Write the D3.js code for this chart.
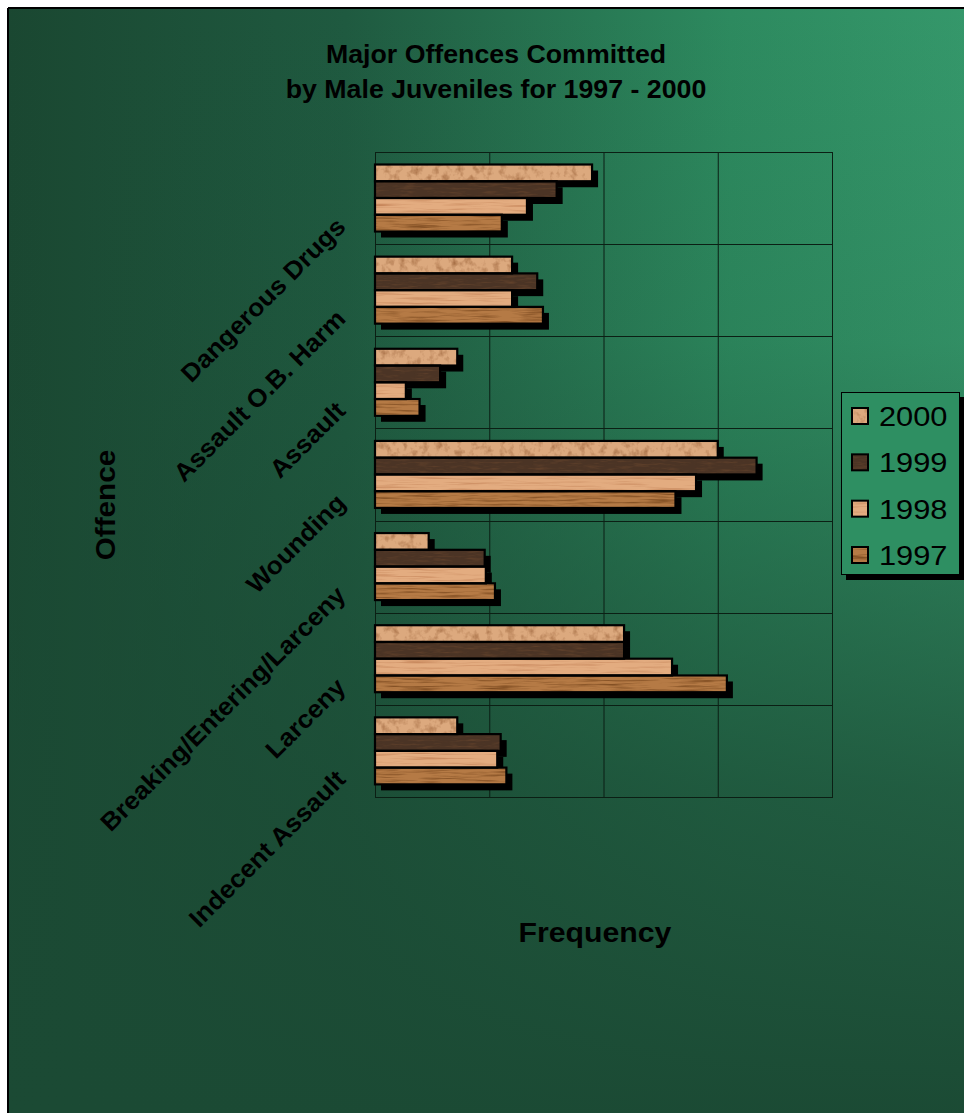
<!DOCTYPE html>
<html><head><meta charset="utf-8">
<script src="https://cdn.jsdelivr.net/npm/d3@7"></script>
<style>html,body{margin:0;padding:0;background:#fff;} svg{display:block;} text{font-family:"Liberation Sans",Arial,Helvetica,sans-serif;}</style>
</head><body><svg id="c" width="964" height="1113"></svg>
<script>
// ---- data ----
const categories = ["Dangerous Drugs","Assault O.B. Harm","Assault","Wounding","Breaking/Entering/Larceny","Larceny","Indecent Assault"];
const years = ["2000","1999","1998","1997"];
const values2000 = [190,120,72,300,47,218,72];
const values1999 = [159,142,57,334,96,218,110];
const values1998 = [133,120,27,281,97,260,107];
const values1997 = [111,147,39,263,105,308,115];
const xTicks = [0,100,200,300,400];
const titleLines = ["Major Offences Committed","by Male Juveniles for 1997 - 2000"];
const xTitle = "Frequency";
const yTitle = "Offence";

const seriesValues = {"2000":values2000,"1999":values1999,"1998":values1998,"1997":values1997};
const seriesStyle = {
  "2000":{fill:"#dca97e", tex:"mottle"},
  "1999":{fill:"#4b3425", tex:"darkgrain"},
  "1998":{fill:"#e3ac80", tex:"grainLight"},
  "1997":{fill:"#b57a45", tex:"grain"}
};

const svg = d3.select("#c");
const W = 964, H = 1113;
const defs = svg.append("defs");

// background gradients
const gH = defs.append("linearGradient").attr("id","bgH").attr("x1",0).attr("x2",1).attr("y1",0).attr("y2",0);
gH.append("stop").attr("offset",0).attr("stop-color","#1a4731");
gH.append("stop").attr("offset",0.35).attr("stop-color","#1f5a40");
gH.append("stop").attr("offset",0.75).attr("stop-color","#2d8a5f");
gH.append("stop").attr("offset",1).attr("stop-color","#35986b");
const gV = defs.append("linearGradient").attr("id","bgV").attr("x1",0).attr("x2",0).attr("y1",0).attr("y2",1);
gV.append("stop").attr("offset",0).attr("stop-color","#1b4a34").attr("stop-opacity",0);
gV.append("stop").attr("offset",0.3).attr("stop-color","#1b4a34").attr("stop-opacity",0.12);
gV.append("stop").attr("offset",0.7).attr("stop-color","#1b4a34").attr("stop-opacity",0.75);
gV.append("stop").attr("offset",1).attr("stop-color","#1b4a34").attr("stop-opacity",1);

// texture filters
function texFilter(id, freq, seed, matrix){
  const f = defs.append("filter").attr("id",id).attr("x",0).attr("y",0).attr("width",1).attr("height",1)
    .attr("color-interpolation-filters","sRGB");
  f.append("feTurbulence").attr("type","fractalNoise").attr("baseFrequency",freq).attr("numOctaves",3).attr("seed",seed).attr("result","n");
  f.append("feColorMatrix").attr("in","n").attr("type","matrix").attr("values",matrix).attr("result","d");
  f.append("feComposite").attr("in","d").attr("in2","SourceGraphic").attr("operator","in");
}
texFilter("mottle","0.14 0.12",3,"0 0 0 0 0.62  0 0 0 0 0.4  0 0 0 0 0.24  1.8 0 0 0 -0.85");
texFilter("darkgrain","0.06 0.5",5,"0 0 0 0 0.42  0 0 0 0 0.28  0 0 0 0 0.18  1.6 0 0 0 -0.75");
texFilter("grainLight","0.02 0.45",7,"0 0 0 0 0.72  0 0 0 0 0.45  0 0 0 0 0.28  1.6 0 0 0 -0.8");
texFilter("grain","0.025 0.5",11,"0 0 0 0 0.45  0 0 0 0 0.26  0 0 0 0 0.1  2.0 0 0 0 -0.9");

// background
svg.append("rect").attr("x",8).attr("y",8).attr("width",W).attr("height",H).attr("fill","url(#bgH)");
svg.append("rect").attr("x",8).attr("y",8).attr("width",W).attr("height",H).attr("fill","url(#bgV)");
svg.append("line").attr("x1",8).attr("x2",W).attr("y1",8).attr("y2",8).attr("stroke","#000").attr("stroke-width",2);
svg.append("line").attr("x1",8).attr("x2",8).attr("y1",8).attr("y2",H).attr("stroke","#000").attr("stroke-width",2);

// scales
const plot = {left:375, right:832, top:152, bottom:797};
const x = d3.scaleLinear().domain([0,400]).range([plot.left, plot.right]);
const y = d3.scaleBand().domain(categories).range([plot.top, plot.bottom]);
const yi = d3.scaleBand().domain(years).range([12.5, 79.5]);

// gridlines
const gx = svg.append("g").attr("transform",`translate(0,${plot.bottom})`)
  .call(d3.axisBottom(x).tickValues(xTicks).tickSize(-(plot.bottom-plot.top)).tickFormat(""));
gx.select(".domain").remove();
gx.selectAll(".tick line").attr("stroke","#0b1f14").attr("stroke-width",1);
svg.append("g").selectAll("line").data(categories).join("line")
  .attr("x1",plot.left).attr("x2",plot.right)
  .attr("y1",d=>Math.round(y(d))+0.5).attr("y2",d=>Math.round(y(d))+0.5)
  .attr("stroke","#0b1f14").attr("stroke-width",1);
svg.append("rect").attr("x",plot.left+0.5).attr("y",plot.top+0.5)
  .attr("width",plot.right-plot.left).attr("height",plot.bottom-plot.top)
  .attr("fill","none").attr("stroke","#0b1f14").attr("stroke-width",1);

// bar data
const bars = [];
categories.forEach((c,i)=>years.forEach(yr=>bars.push({c, yr, v:seriesValues[yr][i]})));

// shadows
svg.append("g").selectAll("rect").data(bars).join("rect")
  .attr("x",d=>x(0)+6).attr("y",d=>y(d.c)+yi(d.yr)+6)
  .attr("width",d=>x(d.v)-x(0)).attr("height",yi.bandwidth())
  .attr("fill","#000");
// bars
const bg = svg.append("g");
bg.selectAll("rect.bar").data(bars).join("rect").attr("class","bar")
  .attr("x",d=>x(0)).attr("y",d=>y(d.c)+yi(d.yr))
  .attr("width",d=>x(d.v)-x(0)).attr("height",yi.bandwidth())
  .attr("fill",d=>seriesStyle[d.yr].fill);
bg.selectAll("rect.tex").data(bars).join("rect").attr("class","tex")
  .attr("x",d=>x(0)).attr("y",d=>y(d.c)+yi(d.yr))
  .attr("width",d=>x(d.v)-x(0)).attr("height",yi.bandwidth())
  .attr("fill","#000").attr("filter",d=>`url(#${seriesStyle[d.yr].tex})`);
bg.selectAll("rect.out").data(bars).join("rect").attr("class","out")
  .attr("x",d=>x(0)).attr("y",d=>y(d.c)+yi(d.yr))
  .attr("width",d=>x(d.v)-x(0)).attr("height",yi.bandwidth())
  .attr("fill","none").attr("stroke","#000").attr("stroke-width",2.2);

// category labels
svg.append("g").selectAll("text").data(categories).join("text")
  .attr("transform",d=>`translate(347,${y(d)+y.bandwidth()/2+30}) rotate(-45) scale(1.05,1)`)
  .attr("text-anchor","end").attr("font-size",25).attr("font-weight","bold").attr("fill","#000")
  .text(d=>d);

// titles
svg.append("g").selectAll("text").data(titleLines).join("text")
  .attr("transform",(d,i)=>`translate(496,${63+i*35}) scale(1.07,1)`)
  .attr("text-anchor","middle").attr("font-size",25).attr("font-weight","bold").attr("fill","#000")
  .text(d=>d);
svg.append("text").attr("transform","translate(595,942) scale(1.08,1)")
  .attr("text-anchor","middle").attr("font-size",28).attr("font-weight","bold").text(xTitle);
svg.append("text").attr("transform","translate(115,505) rotate(-90) scale(1.06,1)")
  .attr("text-anchor","middle").attr("font-size",28).attr("font-weight","bold").text(yTitle);

// legend
const lg = svg.append("g");
lg.append("rect").attr("x",846).attr("y",397).attr("width",119).attr("height",183).attr("fill","#000");
lg.append("rect").attr("x",841.5).attr("y",392.5).attr("width",118).attr("height",182)
  .attr("fill","#2e8f62").attr("stroke","#000").attr("stroke-width",1);
const ly = d3.scalePoint().domain(years).range([416,555]);
const li = lg.selectAll("g.item").data(years).join("g").attr("class","item")
  .attr("transform",d=>`translate(0,${ly(d)})`);
li.append("rect").attr("x",852).attr("y",-8).attr("width",16).attr("height",16)
  .attr("fill",d=>seriesStyle[d].fill);
li.append("rect").attr("x",852).attr("y",-8).attr("width",16).attr("height",16)
  .attr("fill","#000").attr("filter",d=>`url(#${seriesStyle[d].tex})`);
li.append("rect").attr("x",852).attr("y",-8).attr("width",16).attr("height",16)
  .attr("fill","none").attr("stroke","#000").attr("stroke-width",2);
li.append("text").attr("transform","translate(879,10) scale(1.1,1)")
  .attr("font-size",28).attr("fill","#000").text(d=>d);
</script></body></html>
